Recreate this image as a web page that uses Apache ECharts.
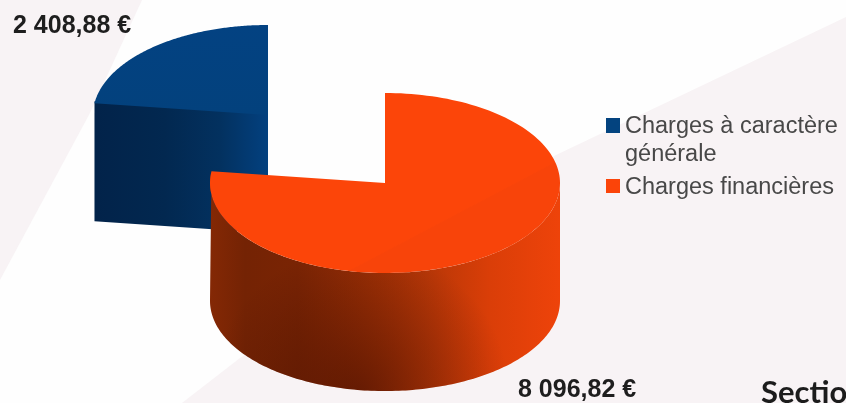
<!DOCTYPE html>
<html><head><meta charset="utf-8">
<style>html,body{margin:0;padding:0;background:#fefefe}#c{width:846px;height:403px}</style>
<script src="https://cdn.jsdelivr.net/npm/echarts@6/dist/echarts.min.js"></script>
</head><body><div id="c"></div>
<script>
const categories = ['Charges à caractère\ngénérale', 'Charges financières'];
const values = [2408.88, 8096.82];
const valueLabels = ['2 408,88 €', '8 096,82 €'];
const topColors = ['#03437f', '#fb4409'];

const total = values.reduce((a, b) => a + b, 0);
const RX = 175, RY = 90, DEPTH = 118;
const DEG = Math.PI / 180;
function pt(cx, cy, a, dy) { return [cx + RX * Math.sin(a), cy - RY * Math.cos(a) + (dy || 0)]; }
function arc(cx, cy, a0, a1, dy) {
  const n = 160, out = [];
  for (let i = 0; i <= n; i++) out.push(pt(cx, cy, a0 + (a1 - a0) * i / n, dy));
  return out;
}
function poly(points, fill, z2) { return { type: 'polygon', shape: { points }, style: { fill }, z2: z2 || 0 }; }
function lin(x, y, x2, y2, stops) {
  return { type: 'linear', global: true, x, y, x2, y2, colorStops: stops.map(s => ({ offset: s[0], color: s[1] })) };
}

function renderBlue(params, api) {
  const cx = 268, cy = 115;
  const share = api.value(0) / total * 360 * DEG;
  const a0 = 360 * DEG - share, a1 = 360 * DEG;
  const corner = pt(cx, cy, a0);
  const wall = [[corner[0], corner[1] - 2], [cx, cy - 2], [cx, cy + DEPTH], [corner[0], corner[1] + DEPTH]];
  const top = [[cx, cy]].concat(arc(cx, cy, a0, a1));
  return { type: 'group', children: [
    poly(wall, lin(cx - 172, 0, cx, 0, [[0, '#02234a'], [0.4, '#022850'], [0.72, '#03315f'], [0.92, '#033c76'], [1, '#03417f']])),
    poly(top, lin(0, cy - RY, 0, cy + 12, [[0, '#034282'], [1, '#03417c']])),
    { type: 'text', style: { text: valueLabels[0], x: 13, y: 26, verticalAlign: 'middle', font: 'bold 25px "Liberation Sans"', fill: '#1e1e1e' } }
  ] };
}
function renderOrange(params, api) {
  const cx = 385, cy = 183;
  const share = api.value(0) / total * 360 * DEG;
  const upper = arc(cx, cy, 90 * DEG, share);
  const lower = arc(cx, cy, 90 * DEG, 270 * DEG, DEPTH);
  const side = upper.slice(0, 1).concat(lower.concat(upper.slice().reverse()));
  const top = [[cx, cy]].concat(arc(cx, cy, 0, share));
  return { type: 'group', children: [
    poly(side, lin(210, 0, 560, 0, [[0, '#842805'], [0.1, '#742304'], [0.25, '#7a2404'], [0.45, '#9c2f05'], [0.62, '#b83707'], [0.8, '#da3e08'], [1, '#ee430a']])),
    poly(side, { type: 'radial', global: true, x: 360, y: 395, r: 150, colorStops: [{ offset: 0, color: 'rgba(50,8,0,0.5)' }, { offset: 1, color: 'rgba(50,8,0,0)' }] }),
    poly(top, lin(420, 197, 450, 254, [[0, '#fc4509'], [0.49, '#fc4509'], [0.51, '#f8440a'], [1, '#f8440a']])),
    { type: 'text', style: { text: valueLabels[1], x: 518, y: 390, verticalAlign: 'middle', font: 'bold 25px "Liberation Sans"', fill: '#1e1e1e' } }
  ] };
}

const chart = echarts.init(document.getElementById('c'), null, { renderer: 'canvas' });
chart.setOption({
  animation: false,
  backgroundColor: '#fefefe',
  graphic: [
    { type: 'polygon', z: 0, silent: true, shape: { points: [[0, 0], [142, 0], [90, 113], [0, 280]] }, style: { fill: '#f8f3f5' } },
    { type: 'polygon', z: 0, silent: true, shape: { points: [[846, 17], [556, 155], [240, 358], [182, 403], [846, 403]] }, style: { fill: '#f8f3f5' } },
    { type: 'text', z: 1, silent: true, style: { text: 'Sectio', x: 761, y: 393, verticalAlign: 'middle', font: 'bold 31px Lato, "Open Sans"', fill: '#1c1c1c' } }
  ],
  legend: {
    orient: 'vertical', left: 606, top: 113, padding: 0, itemWidth: 14, itemHeight: 56, itemGap: -9, itemStyle: { borderWidth: 0 },
    textStyle: { fontFamily: 'Liberation Sans', fontSize: 23.5, lineHeight: 28, color: '#484848' },
    selectedMode: false,
    data: [
      { name: categories[0], icon: 'path://M0 5H14V20H0Z M0 0L0 0 M0 56L0 56' },
      { name: categories[1], icon: 'path://M0 19H14V33H0Z M0 0L0 0 M0 56L0 56' }
    ]
  },
  series: [
    { type: 'custom', name: categories[0], coordinateSystem: 'none', renderItem: renderBlue, data: [[values[0]]], itemStyle: { color: topColors[0] }, z: 2 },
    { type: 'custom', name: categories[1], coordinateSystem: 'none', renderItem: renderOrange, data: [[values[1]]], itemStyle: { color: topColors[1] }, z: 3 }
  ]
});
</script></body></html>
